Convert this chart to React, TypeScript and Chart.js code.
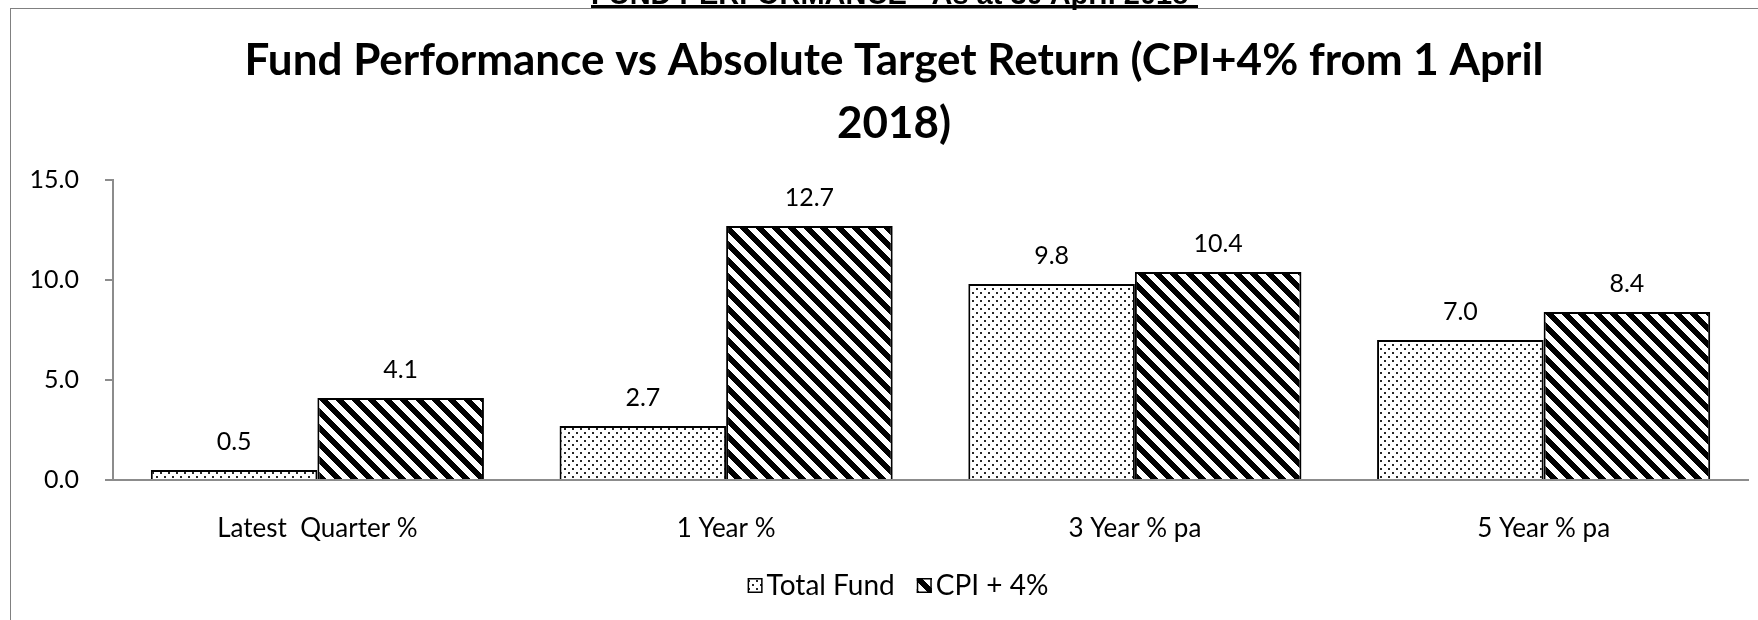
import React, { useEffect, useRef } from "react";
import { Chart, registerables } from "chart.js";

Chart.register(...registerables);

const categories = ["Latest  Quarter %", "1 Year %", "3 Year % pa", "5 Year % pa"];
const totalFund = [0.5, 2.7, 9.8, 7.0];
const cpiPlus4 = [4.1, 12.7, 10.4, 8.4];
const seriesNames = ["Total Fund", "CPI + 4%"];
const yMin = 0;
const yMax = 15;
const yStep = 5;
const titleLines = ["Fund Performance vs Absolute Target Return (CPI+4% from 1 April", "2018)"];
const headerText = "FUND PERFORMANCE - As at 30 April 2018";

const FONT = "Lato, 'Noto Sans', sans-serif";

function makeDots(): CanvasPattern | string {
  const c = document.createElement("canvas");
  c.width = 8;
  c.height = 8;
  const g = c.getContext("2d");
  if (!g) return "#fff";
  g.fillStyle = "#ffffff";
  g.fillRect(0, 0, 8, 8);
  g.fillStyle = "#262626";
  g.fillRect(0, 0, 2, 2);
  g.fillRect(4, 4, 2, 2);
  return g.createPattern(c, "repeat") || "#fff";
}

function makeStripes(): CanvasPattern | string {
  const T = 16;
  const c = document.createElement("canvas");
  c.width = T;
  c.height = T;
  const g = c.getContext("2d");
  if (!g) return "#000";
  g.fillStyle = "#ffffff";
  g.fillRect(0, 0, T, T);
  g.fillStyle = "#000000";
  for (let y = 0; y < T; y++) {
    for (let x = 0; x < T; x++) {
      const d = (((x - y) % T) + T) % T;
      if (d < 8) g.fillRect(x, y, 1, 1);
    }
  }
  return g.createPattern(c, "repeat") || "#000";
}

const valueLabels = {
  id: "valueLabels",
  afterDatasetsDraw(chart: any) {
    const ctx = chart.ctx;
    ctx.save();
    ctx.font = `25px ${FONT}`;
    ctx.fillStyle = "#000";
    ctx.textAlign = "center";
    ctx.textBaseline = "alphabetic";
    chart.data.datasets.forEach((ds: any, i: number) => {
      const meta = chart.getDatasetMeta(i);
      meta.data.forEach((bar: any, j: number) => {
        const v = ds.data[j] as number;
        ctx.fillText(v.toFixed(1), bar.x, bar.y - 20);
      });
    });
    ctx.restore();
  },
};

const customLegend = {
  id: "customLegend",
  afterDraw(chart: any) {
    const ctx = chart.ctx;
    ctx.save();
    ctx.font = `28px ${FONT}`;
    const box = 15;
    const gapText = 4;
    const gapItem = 22;
    const widths = chart.data.datasets.map((ds: any) => ctx.measureText(ds.label).width);
    let total = 0;
    widths.forEach((w: number, i: number) => {
      total += box + gapText + w + (i < widths.length - 1 ? gapItem : 0);
    });
    let x = 898 - total / 2;
    const top = 578;
    chart.data.datasets.forEach((ds: any, i: number) => {
      ctx.fillStyle = ds.backgroundColor;
      ctx.fillRect(x, top, box, box);
      ctx.strokeStyle = "#000";
      ctx.lineWidth = 1.5;
      ctx.strokeRect(x + 0.75, top + 0.75, box - 1.5, box - 1.5);
      ctx.fillStyle = "#000";
      ctx.textAlign = "left";
      ctx.textBaseline = "alphabetic";
      ctx.fillText(ds.label, x + box + gapText, 595);
      x += box + gapText + widths[i] + gapItem;
    });
    ctx.restore();
  },
};

export default function App() {
  const ref = useRef<HTMLCanvasElement | null>(null);

  useEffect(() => {
    const canvas = ref.current;
    if (!canvas) return;
    const dots = makeDots();
    const stripes = makeStripes();
    const chart = new Chart(canvas, {
      type: "bar",
      data: {
        labels: categories,
        datasets: [
          {
            label: seriesNames[0],
            data: totalFund,
            backgroundColor: dots as any,
            borderColor: "#000",
            borderWidth: 2,
          },
          {
            label: seriesNames[1],
            data: cpiPlus4,
            backgroundColor: stripes as any,
            borderColor: "#000",
            borderWidth: 2,
          },
        ],
      },
      options: {
        responsive: false,
        animation: false,
        devicePixelRatio: 1,
        layout: { padding: { left: 10, right: 10, top: 0, bottom: 0 } },
        datasets: {
          bar: { categoryPercentage: 0.815, barPercentage: 1 },
        },
        plugins: {
          legend: { display: false },
          tooltip: { enabled: false },
          title: {
            display: true,
            text: titleLines,
            color: "#000",
            font: { family: FONT, size: 44, weight: "bold", lineHeight: "63px" as any },
            padding: { top: 29, bottom: 25 },
          },
        },
        scales: {
          x: {
            grid: { display: false },
            border: { display: true, color: "#8c8c8c", width: 2 },
            ticks: {
              color: "#000",
              font: { family: FONT, size: 26 },
              padding: 25,
              maxRotation: 0,
              autoSkip: false,
            },
            afterFit: (s: any) => {
              s.height = 140;
            },
          },
          y: {
            min: yMin,
            max: yMax,
            grid: {
              display: true,
              drawOnChartArea: false,
              drawTicks: true,
              tickLength: 8,
              color: "#8c8c8c",
              lineWidth: 2,
            },
            border: { display: true, color: "#8c8c8c", width: 2 },
            ticks: {
              stepSize: yStep,
              color: "#000",
              font: { family: FONT, size: 25 },
              padding: 26,
              callback: (v: any) => Number(v).toFixed(1),
            },
            afterFit: (s: any) => {
              s.width = 103;
            },
          },
          yRight: {
            position: "right",
            display: true,
            min: 0,
            max: 1,
            grid: { display: false },
            border: { display: false },
            ticks: { display: false },
            afterFit: (s: any) => {
              s.width = 30;
            },
          },
        },
      },
      plugins: [valueLabels, customLegend],
    });
    return () => chart.destroy();
  }, []);

  return (
    <div
      style={{
        position: "absolute",
        left: 0,
        top: 0,
        width: 1758,
        height: 620,
        overflow: "hidden",
        background: "#fff",
      }}
    >
      <div
        style={{
          position: "absolute",
          left: 10,
          top: 8,
          width: 1900,
          height: 800,
          borderLeft: "1px solid #808080",
          borderTop: "1px solid #808080",
        }}
      />
      <canvas
        ref={ref}
        width={1788}
        height={620}
        style={{ position: "absolute", left: 0, top: 0, width: 1788, height: 620 }}
      />
      <div
        style={{
          position: "absolute",
          left: 591,
          top: -21,
          whiteSpace: "nowrap",
          fontFamily: "'Liberation Sans', Arial, sans-serif",
          fontWeight: "bold",
          fontSize: 29,
          lineHeight: "30px",
          color: "#000",
        }}
      >
        {headerText}
      </div>
      <div
        style={{
          position: "absolute",
          left: 591,
          top: 5,
          width: 607,
          height: 3,
          background: "#000",
        }}
      />
    </div>
  );
}
